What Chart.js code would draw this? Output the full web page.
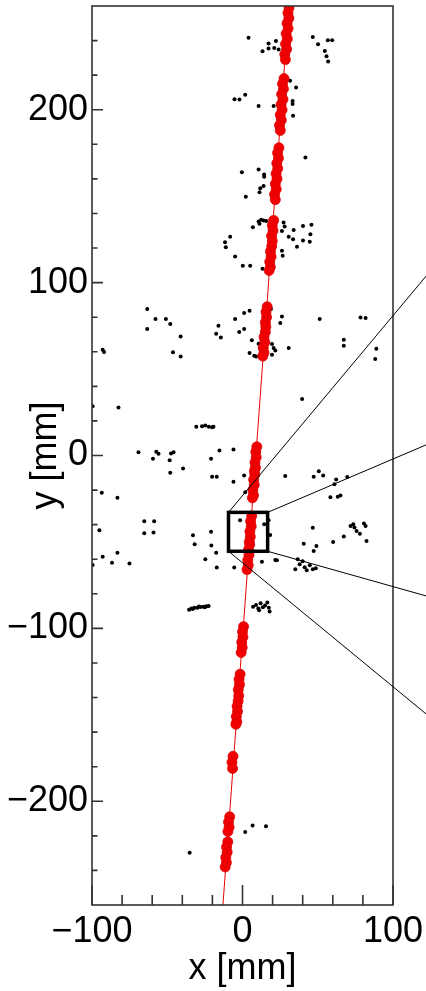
<!DOCTYPE html>
<html>
<head>
<meta charset="utf-8">
<script src="https://cdn.jsdelivr.net/npm/chart.js@4"></script>
<style>
  html, body { margin: 0; padding: 0; background: #fff; overflow: hidden; }
  #wrap { width: 426px; height: 991px; position: relative; }
</style>
</head>
<body>
<div id="wrap"><canvas id="chart"></canvas></div>
<script>
// axis ticks (mm)
const X_TICKS = [-100, 0, 100];
const X_MINOR = [-80, -60, -40, -20, 20, 40, 60, 80];
const Y_TICKS = [-200, -100, 0, 100, 200];
const Y_MINOR = [-240, -220, -180, -160, -140, -120, -80, -60, -40, -20, 20, 40, 60, 80, 120, 140, 160, 180, 220, 240];

// track fit line end points
const FIT_X = [-13.0, 30.8];
const FIT_Y = [-260, 260];

// hits on the track (red)
const RED_X = [
  30.9, 30.2, 30.8, 29.6, 30.3, 29.0, 29.8, 28.6, 29.3, 28.1, 28.5,
  27.6, 26.6, 27.2, 26.0, 26.9, 25.6, 26.3, 25.1, 25.8, 24.6, 25.1,
  24.2, 23.3, 23.9, 22.8, 23.4, 22.3, 22.9, 21.8, 22.4, 21.3, 21.8,
  20.7, 19.8, 20.3, 19.3, 19.8, 19.4, 18.6, 19.0, 18.1, 18.5, 17.7,
  16.4, 15.6, 16.0, 15.2, 15.5,
  15.2, 14.3, 14.8, 13.8, 14.3, 13.5,
  9.5, 8.8, 9.1, 8.3, 8.6, 7.9,
  8.2, 7.4, 7.8, 6.9, 7.3, 6.6,
  6.1, 5.4, 5.8, 4.9, 5.2, 4.5,
  4.8, 4.0, 4.3, 3.5, 3.8, 3.0,
  0.7, 0.0, 0.3, -0.5, -0.2, -0.9,
  -1.6, -2.3, -2.0, -2.8, -2.5,
  -2.9, -3.6, -3.3, -4.1, -3.8, -4.4,
  -6.3, -7.0, -6.6,
  -8.5, -9.3, -8.9, -9.7,
  -9.8, -10.6, -10.2, -11.1, -10.7, -11.5
];
const RED_Y = [
  259, 256, 253, 250, 247, 244, 241, 238, 235, 232, 229,
  218, 215, 212, 209, 206, 203, 200, 197, 194, 191, 188,
  178, 175, 172, 169, 166, 163, 160, 157, 154, 151, 148,
  136, 133, 130, 127, 124, 121, 118, 115, 112, 109, 107,
  86, 83, 80, 77, 74.5,
  71.5, 68.5, 65.5, 62.5, 59.5, 57.5,
  5, 2, -1, -4, -7, -9,
  -11, -14, -17, -20, -23, -24.5,
  -35, -38, -41, -44, -47, -50,
  -51.5, -54.5, -57.5, -60.5, -63.5, -66,
  -99, -102, -105, -108, -111, -114,
  -126.5, -129.5, -132.5, -135.5, -139,
  -142, -145, -148, -151, -154, -155.5,
  -174, -177.5, -181,
  -209, -212, -215, -217.5,
  -223.5, -226.5, -229.5, -232.5, -235.5, -238
];

// other hits (black)
const BLACK_X = [
  4, 17.3, 22.2, 13.3, 17.3, 21.1, 24, 46.7, 50.2, 56.7, 59.6, 54.7, 55.8, 56.9,
  31.6, 35.6, -5.3, -2, 1.8, 10.7, 20.7, 33.3, 33.3, 33.6,
  41.8, -0.4, 10.7, 14.4, 14.4, 14, 11.8, 11.3, 2.2,
  6.9, 10.7, 12.4, 14, 15.8, 11.3, 34, 40.2, 45.8, 26.2, 30.7, 33.6, 45.1, 40.2, 44.7, 36.2, -8.2, -11.6, -11.1, 27.3, 28,
  -4.9, 26.2, 26.7, 0.2, 5.1, 13.3, 18.9, 1.1, 4.7, -4.9, -16, 26.2, 25.1, 51.3, 78.4, 81.8,
  1.1, -2.2, -17.5, -14.4, 6.2, 10.7, 11.8, 19.6, 20.7, 21.8, 30.7, 4.7, 7.8, 9.1, 19.6,
  67.3, 67.3, 88.9, 88.2, 39.6, -19.3, -15.3, -6, -17.1, -6, 1.1, 28.4, 47.3, 50.7, 53.6,
  62.2, 61.1, 69.6, 58.4, 63.3, 65.1, 1.8,
  -63.3, -63.3, -57.8, -50.9, -48, -41.1, -46.2, -41.1, -92.9, -92, -82.4, -99.6,
  -30.7, -26.9, -24.7, -22.4, -20.2, -69.1, -59.5, -57.3, -55.8, -47.5, -45.8, -48.4, -48, -39.5,
  -20.9, -20.2, -93.5, -83.1,
  -95.1, -92.9, -86.7, -83.1, -75.1, -99.6, -65.3, -58.7, -65.3, -59.1, -32.9, -31.8, -20.9, -20.7, -24.7,
  -35.5, -34, -32, -30, -28, -26, -24, -22.5, -33, -29, -25,
  -1.6, 14.4, 17.3, 18.4, -17.5, -17.1, -5.5, 12.9, 21.8, 22.9,
  46.7, 40.7, 49.1, 47.3, 60.2, 67.3, 71.8, 73.6, 74.4, 75.8, 78, 80.7, 81.8, 82.4,
  35.1, 38, 40, 41.3, 42.7, 44.7, 46.7, 48.7, 36.7,
  7, 9, 10.5, 12, 13.5, 15, 16.5, 17.5, 18, 11,
  1.8, 6.7, 15.6, -35.1
];
const BLACK_Y = [
  241.7, 238.3, 239.8, 233.8, 235.4, 235.7, 234.8, 242.1, 237.9, 240.2, 240.2, 234, 231, 227.9,
  216.7, 212.9, 206.1, 205.9, 208.6, 202.1, 202.1, 205, 203.3, 196.5,
  172.4, 163.8, 165.5, 162.6, 161.3, 155.9, 154.6, 152.2, 149.7,
  132, 135.3, 136.3, 135.9, 135.7, 134, 130.5, 132.8, 133.4, 129.9, 126.6, 125.1, 128, 124.3, 123.7, 120.8, 126.6, 123.4, 120.5, 134.7, 132.4,
  115.1, 118.4, 115.6, 109.7, 109.7, 108, 84.7, 82.4, 83.7, 78.9, 75.1, 80.4, 76.6, 78.9, 79.8, 79.5,
  73.1, 71.4, 70.4, 68.3, 66.6, 64.7, 61.6, 64.5, 62.2, 60.8, 62.2, 59.3, 57.7, 57.3, 58.3,
  67, 63.5, 61.8, 55.8, 32.7, 16.6, 2.9, 3.5, -12.3, -15.2, -11.5, -11.9, -12.3, -9.1, -11.5,
  -13.9, -16.7, -12.5, -24.1, -23.8, -23.1, -21.2,
  84.7, 73.1, 78.9, 78.9, 76, 68.9, 59.7, 57.3, 61.2, 59.9, 27.7, 28.5,
  16.6, 16.9, 17.3, 16.6, 16.3, 1.9, -1.9, 2.1, 1, 1.2, 1.9, -2.7, -10, -7.5,
  -1.9, -12.3, -21.5, -24.4,
  -43.3, -58.5, -62, -56.2, -62.4, -63.3, -38.1, -38.1, -45, -44.6, -46.2, -51.4, -44.1, -52, -60,
  -89.2, -88.5, -88, -88, -87.7, -87.5, -87.2, -87, -88.8, -87.4, -87.8,
  -37.5, -39.8, -37.5, -46, -56.2, -64.8, -64.8, -61.4, -60.5, -60.6,
  -41.8, -51, -52.4, -55.2, -50, -46.9, -40.8, -39.8, -41.7, -43.7, -45.2, -39.3, -40.8, -49.5,
  -65.8, -62.9, -61.2, -64.7, -66.4, -63.5, -65.8, -65.2, -60,
  -87.5, -86.5, -88.5, -85.5, -87.8, -86.7, -85, -88, -90.3, -89.5,
  -217.8, -214, -214.4, -229.8
];

// zoomed region and where its connectors leave the picture (mm)
const ZOOM_BOX = { x0: -9.3, x1: 16.7, y0: -55.4, y1: -32.9 };
const INSET_X = 122.7;
const INSET_Y = { tl: 104.5, tr: 6.4, br: -81.4, bl: -150 };

const FONT = 'Liberation Sans, Arial, Helvetica, sans-serif';
const pts = (xs, ys) => xs.map((v, i) => ({ x: v, y: ys[i] }));
const fmt = v => v < 0 ? '\u2212' + Math.abs(v) : String(v);

const decor = {
  id: 'decor',
  afterDraw(chart) {
    const { ctx, chartArea: a, scales: { x, y } } = chart;
    ctx.save();
    ctx.strokeStyle = '#333';
    ctx.lineWidth = 1.6;
    ctx.strokeRect(a.left, a.top, a.right - a.left, a.bottom - a.top);
    ctx.beginPath();
    X_TICKS.concat(X_MINOR).forEach(v => {
      const px = x.getPixelForValue(v);
      const len = X_TICKS.includes(v) ? 20 : 10;
      ctx.moveTo(px, a.bottom); ctx.lineTo(px, a.bottom - len);
    });
    Y_TICKS.concat(Y_MINOR).forEach(v => {
      const py = y.getPixelForValue(v);
      const len = Y_TICKS.includes(v) ? 11 : 5.5;
      ctx.moveTo(a.left, py); ctx.lineTo(a.left + len, py);
    });
    ctx.stroke();

    // zoom box + connectors
    const bx0 = x.getPixelForValue(ZOOM_BOX.x0), bx1 = x.getPixelForValue(ZOOM_BOX.x1);
    const by0 = y.getPixelForValue(ZOOM_BOX.y1), by1 = y.getPixelForValue(ZOOM_BOX.y0);
    const ix = x.getPixelForValue(INSET_X);
    ctx.strokeStyle = '#000';
    ctx.lineWidth = 1;
    ctx.beginPath();
    ctx.moveTo(bx0, by0); ctx.lineTo(ix, y.getPixelForValue(INSET_Y.tl));
    ctx.moveTo(bx1, by0); ctx.lineTo(ix, y.getPixelForValue(INSET_Y.tr));
    ctx.moveTo(bx1, by1); ctx.lineTo(ix, y.getPixelForValue(INSET_Y.br));
    ctx.moveTo(bx0, by1); ctx.lineTo(ix, y.getPixelForValue(INSET_Y.bl));
    ctx.stroke();
    ctx.lineWidth = 3.5;
    ctx.strokeRect(bx0, by0, bx1 - bx0, by1 - by0);
    ctx.restore();
  }
};

new Chart(document.getElementById('chart'), {
  type: 'scatter',
  data: {
    datasets: [
      {
        label: 'track hits',
        data: pts(RED_X, RED_Y),
        pointRadius: 5,
        pointBackgroundColor: 'rgb(240,0,0)',
        pointBorderColor: 'rgb(220,0,0)',
        pointBorderWidth: 0.8
      },
      {
        label: 'fit',
        type: 'line',
        data: pts(FIT_X, FIT_Y),
        borderColor: 'rgb(235,0,0)',
        borderWidth: 1,
        pointRadius: 0,
        showLine: true
      },
      {
        label: 'hits',
        data: pts(BLACK_X, BLACK_Y),
        pointRadius: 2,
        pointBackgroundColor: '#000',
        pointBorderWidth: 0
      }
    ]
  },
  options: {
    responsive: true,
    maintainAspectRatio: false,
    animation: false,
    layout: { padding: { top: 6, right: 33, left: 0, bottom: 0 } },
    plugins: { legend: { display: false }, tooltip: { enabled: false } },
    scales: {
      x: {
        type: 'linear', min: -100, max: 100,
        afterBuildTicks: s => { s.ticks = X_TICKS.map(v => ({ value: v })); },
        afterFit: s => { s.height = 86; s.paddingLeft = 0; s.paddingRight = 0; },
        grid: { display: false, drawTicks: false },
        border: { display: false },
        ticks: { color: '#000', padding: 5, maxRotation: 0, autoSkip: false,
          font: { family: FONT, size: 36 }, callback: fmt },
        title: { display: true, text: 'x [mm]', color: '#000', padding: 0,
          font: { family: FONT, size: 36 } }
      },
      y: {
        type: 'linear', min: -260, max: 260,
        afterBuildTicks: s => { s.ticks = Y_TICKS.map(v => ({ value: v })); },
        afterFit: s => { s.width = 92; s.paddingTop = 0; s.paddingBottom = 0; },
        grid: { display: false, drawTicks: false },
        border: { display: false },
        ticks: { color: '#000', padding: 4, autoSkip: false,
          font: { family: FONT, size: 36 }, callback: fmt },
        title: { display: true, text: 'y [mm]', color: '#000', padding: { top: 24, bottom: 0 },
          font: { family: FONT, size: 36 } }
      }
    }
  },
  plugins: [decor]
});
</script>
</body>
</html>
